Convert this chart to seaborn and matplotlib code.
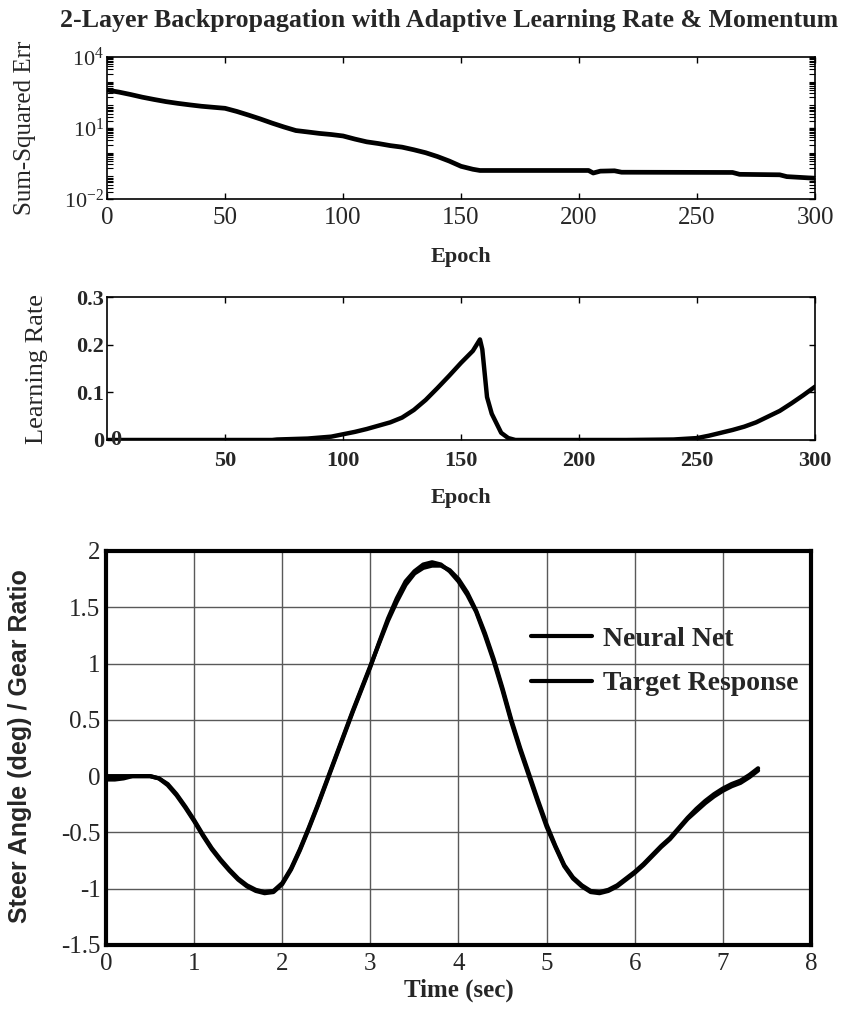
import numpy as np
import pandas as pd
import matplotlib
matplotlib.use("Agg")
import matplotlib.pyplot as plt
import seaborn as sns
from matplotlib.ticker import FixedLocator, LogLocator, NullFormatter

# ---------------- data ----------------
epoch_err = [0, 5, 10, 15, 20, 25, 30, 35, 40, 45, 50, 55, 60, 65, 70, 75, 80, 85, 90,
             95, 100, 105, 110, 115, 120, 125, 130, 135, 140, 145, 150, 155, 158, 204,
             206, 209, 215, 218, 265, 268, 285, 288, 300]
sse = [400, 330, 260, 200, 160, 130, 110, 95, 83, 75, 68, 50, 35, 24, 16, 11, 7.8, 6.8,
       5.9, 5.3, 4.6, 3.4, 2.6, 2.2, 1.8, 1.55, 1.2, 0.9, 0.62, 0.40, 0.24, 0.18,
       0.16, 0.16, 0.125, 0.15, 0.155, 0.135, 0.132, 0.11, 0.105, 0.088, 0.075]

epoch_lr = [0, 70, 72, 85, 95, 100, 105, 110, 115, 120, 125, 130, 135, 140, 145, 150, 155,
            158, 159, 161, 163, 165, 167, 170, 173, 220, 240, 250, 255, 260, 265, 270, 275,
            280, 285, 290, 295, 300]
learning_rate = [0, 0, 0.001, 0.003, 0.007, 0.012, 0.017, 0.023, 0.030, 0.037, 0.047, 0.063,
                 0.084, 0.109, 0.135, 0.162, 0.187, 0.211, 0.19, 0.09, 0.055, 0.035, 0.015,
                 0.004, 0.0, 0.0, 0.001, 0.004, 0.009, 0.015, 0.021, 0.028, 0.037, 0.049,
                 0.061, 0.077, 0.094, 0.112]

time_sec = np.linspace(0.0, 7.4, 75)
target_response = [-0.03, -0.03, -0.02, 0.0, 0.0, 0.0, -0.02, -0.08, -0.17, -0.28,
                   -0.40, -0.53, -0.65, -0.75, -0.84, -0.92, -0.98, -1.02, -1.04, -1.03,
                   -0.96, -0.83, -0.66, -0.47, -0.27, -0.06, 0.15, 0.36, 0.57, 0.77,
                   0.97, 1.19, 1.40, 1.58, 1.73, 1.82, 1.88, 1.90, 1.88, 1.82,
                   1.73, 1.61, 1.46, 1.25, 1.02, 0.76, 0.48, 0.23, 0.0, -0.23,
                   -0.45, -0.63, -0.80, -0.91, -0.98, -1.03, -1.04, -1.02, -0.98, -0.92,
                   -0.86, -0.79, -0.71, -0.63, -0.56, -0.47, -0.38, -0.31, -0.24, -0.18,
                   -0.13, -0.09, -0.06, -0.01, 0.05]
neural_net = [0.0, 0.0, 0.0, 0.0, 0.0, 0.0, -0.02, -0.07, -0.16, -0.27,
              -0.39, -0.52, -0.64, -0.74, -0.83, -0.91, -0.97, -1.01, -1.03, -1.02,
              -0.95, -0.82, -0.65, -0.46, -0.26, -0.05, 0.16, 0.37, 0.58, 0.78,
              0.98, 1.18, 1.38, 1.55, 1.70, 1.80, 1.85, 1.87, 1.87, 1.83,
              1.75, 1.63, 1.47, 1.27, 1.04, 0.78, 0.50, 0.25, 0.02, -0.21,
              -0.43, -0.62, -0.79, -0.90, -0.97, -1.02, -1.03, -1.01, -0.97, -0.91,
              -0.85, -0.78, -0.70, -0.62, -0.55, -0.46, -0.37, -0.29, -0.22, -0.16,
              -0.11, -0.07, -0.04, 0.01, 0.07]

err_ticks = [1e-2, 1e1, 1e4]
err_ticklabels = [r"$\mathregular{10^{-2}}$", r"$\mathregular{10^{1}}$", r"$\mathregular{10^{4}}$"]
epoch_ticks_top = [0, 50, 100, 150, 200, 250, 300]
epoch_ticks_mid = [50, 100, 150, 200, 250, 300]
lr_ticks = [0, 0.1, 0.2, 0.3]
lr_ticklabels = ["0", "0.1", "0.2", "0.3"]
time_ticks = [0, 1, 2, 3, 4, 5, 6, 7, 8]
steer_ticks = [-1.5, -1, -0.5, 0, 0.5, 1, 1.5, 2]
steer_ticklabels = ["-1.5", "-1", "-0.5", "0", "0.5", "1", "1.5", "2"]

# ---------------- style ----------------
sns.set_theme(style="white")
SERIF = ["Liberation Serif", "DejaVu Serif"]
SANS = ["Liberation Sans", "DejaVu Sans"]
plt.rcParams["font.family"] = SERIF
plt.rcParams["mathtext.fontset"] = "custom"
plt.rcParams["mathtext.rm"] = "Liberation Serif"
plt.rcParams["axes.edgecolor"] = "black"
plt.rcParams["axes.linewidth"] = 1.2

fig = plt.figure(figsize=(8.46, 10.11), dpi=100)
fig.patch.set_facecolor("white")

# ---------------- top panel: sum squared error ----------------
ax1 = fig.add_axes([0.1265, 0.8032, 0.837, 0.1404])
sns.lineplot(x=epoch_err, y=sse, ax=ax1, color="black", linewidth=3.4)
ax1.set_yscale("log")
ax1.set_xlim(0, 300)
ax1.set_ylim(1e-2, 1e4)
ax1.yaxis.set_major_locator(FixedLocator(err_ticks))
ax1.set_yticklabels(err_ticklabels)
ax1.yaxis.set_minor_locator(LogLocator(base=10, subs=np.arange(2, 10), numticks=100))
ax1.yaxis.set_minor_formatter(NullFormatter())
ax1.set_xticks(epoch_ticks_top)
ax1.set_xticklabels([str(t) for t in epoch_ticks_top])
ax1.tick_params(axis="both", which="both", direction="in", top=True, right=True,
                bottom=True, left=True, color="black")
ax1.tick_params(axis="both", which="major", length=4, width=1)
ax1.tick_params(axis="y", which="minor", length=4, width=0.8)
ax1.tick_params(axis="x", labelsize=18, pad=6)
ax1.tick_params(axis="y", labelsize=16, pad=2)
ax1.set_xlabel("Epoch", fontsize=16, fontweight="bold")
ax1.xaxis.set_label_coords(0.5, -0.41)
ax1.xaxis.label.set_va("center")
ax1.set_ylabel("Sum-Squared Err", fontsize=18)
ax1.yaxis.set_label_coords(-0.116, 0.5)
ax1.yaxis.label.set_va("center")
for s in ax1.spines.values():
    s.set_linewidth(1.2)

fig.text(0.531, 0.9733, "2-Layer Backpropagation with Adaptive Learning Rate & Momentum",
         ha="center", va="baseline", fontsize=18.6, fontweight="bold")

# ---------------- middle panel: learning rate ----------------
ax2 = fig.add_axes([0.1265, 0.5648, 0.837, 0.1414])
sns.lineplot(x=epoch_lr, y=learning_rate, ax=ax2, color="black", linewidth=3.2)
ax2.set_xlim(0, 300)
ax2.set_ylim(0, 0.3)
ax2.set_xticks(epoch_ticks_mid)
ax2.set_xticklabels([str(t) for t in epoch_ticks_mid])
ax2.set_yticks(lr_ticks)
ax2.set_yticklabels(lr_ticklabels)
ax2.tick_params(axis="both", which="major", direction="in", top=True, right=True,
                bottom=True, left=True, length=4, width=1, color="black", labelsize=16)
ax2.tick_params(axis="x", pad=8)
ax2.tick_params(axis="y", pad=2)
for lab in ax2.get_xticklabels() + ax2.get_yticklabels():
    lab.set_fontweight("bold")
ax2.text(0.005, 0.0, "0", transform=ax2.transAxes, ha="left", va="center",
         fontsize=16, fontweight="bold")
ax2.set_xlabel("Epoch", fontsize=16, fontweight="bold")
ax2.xaxis.set_label_coords(0.5, -0.405)
ax2.xaxis.label.set_va("center")
ax2.set_ylabel("Learning Rate", fontsize=19)
ax2.yaxis.set_label_coords(-0.099, 0.5)
ax2.yaxis.label.set_va("center")
for s in ax2.spines.values():
    s.set_linewidth(1.2)

# ---------------- bottom panel: steer angle ----------------
ax3 = fig.add_axes([0.1253, 0.0653, 0.8333, 0.3897])
df = pd.DataFrame({
    "time": np.concatenate([time_sec, time_sec]),
    "value": neural_net + target_response,
    "series": ["Neural Net"] * len(time_sec) + ["Target Response"] * len(time_sec),
})
sns.lineplot(data=df, x="time", y="value", hue="series",
             palette={"Neural Net": "black", "Target Response": "black"},
             linewidth=3.0, ax=ax3, legend=True)
ax3.set_xlim(0, 8)
ax3.set_ylim(-1.5, 2)
ax3.set_xticks(time_ticks)
ax3.set_xticklabels([str(t) for t in time_ticks])
ax3.set_yticks(steer_ticks)
ax3.set_yticklabels(steer_ticklabels)
ax3.grid(True, color="0.35", linewidth=1.0)
ax3.tick_params(axis="both", length=0, labelsize=18)
ax3.tick_params(axis="x", pad=6)
ax3.tick_params(axis="y", pad=4)
for s in ax3.spines.values():
    s.set_linewidth(3.0)
    s.set_color("black")
ax3.set_xlabel("Time (sec)", fontsize=18, fontweight="bold")
ax3.xaxis.set_label_coords(0.5, -0.114)
ax3.xaxis.label.set_va("center")
ax3.set_ylabel("Steer Angle (deg) / Gear Ratio", fontsize=18, fontweight="bold",
               family=SANS)
ax3.yaxis.set_label_coords(-0.122, 0.505)
ax3.yaxis.label.set_va("center")
leg = ax3.legend(loc="center left", bbox_to_anchor=(0.603, 0.72), frameon=False,
                 handlelength=2.2, handletextpad=0.4, labelspacing=0.7,
                 borderpad=0, borderaxespad=0,
                 prop={"family": SERIF, "weight": "bold", "size": 20})
for h in leg.get_lines():
    h.set_linewidth(3.0)

fig.savefig("out.png", dpi=100, facecolor="white")
